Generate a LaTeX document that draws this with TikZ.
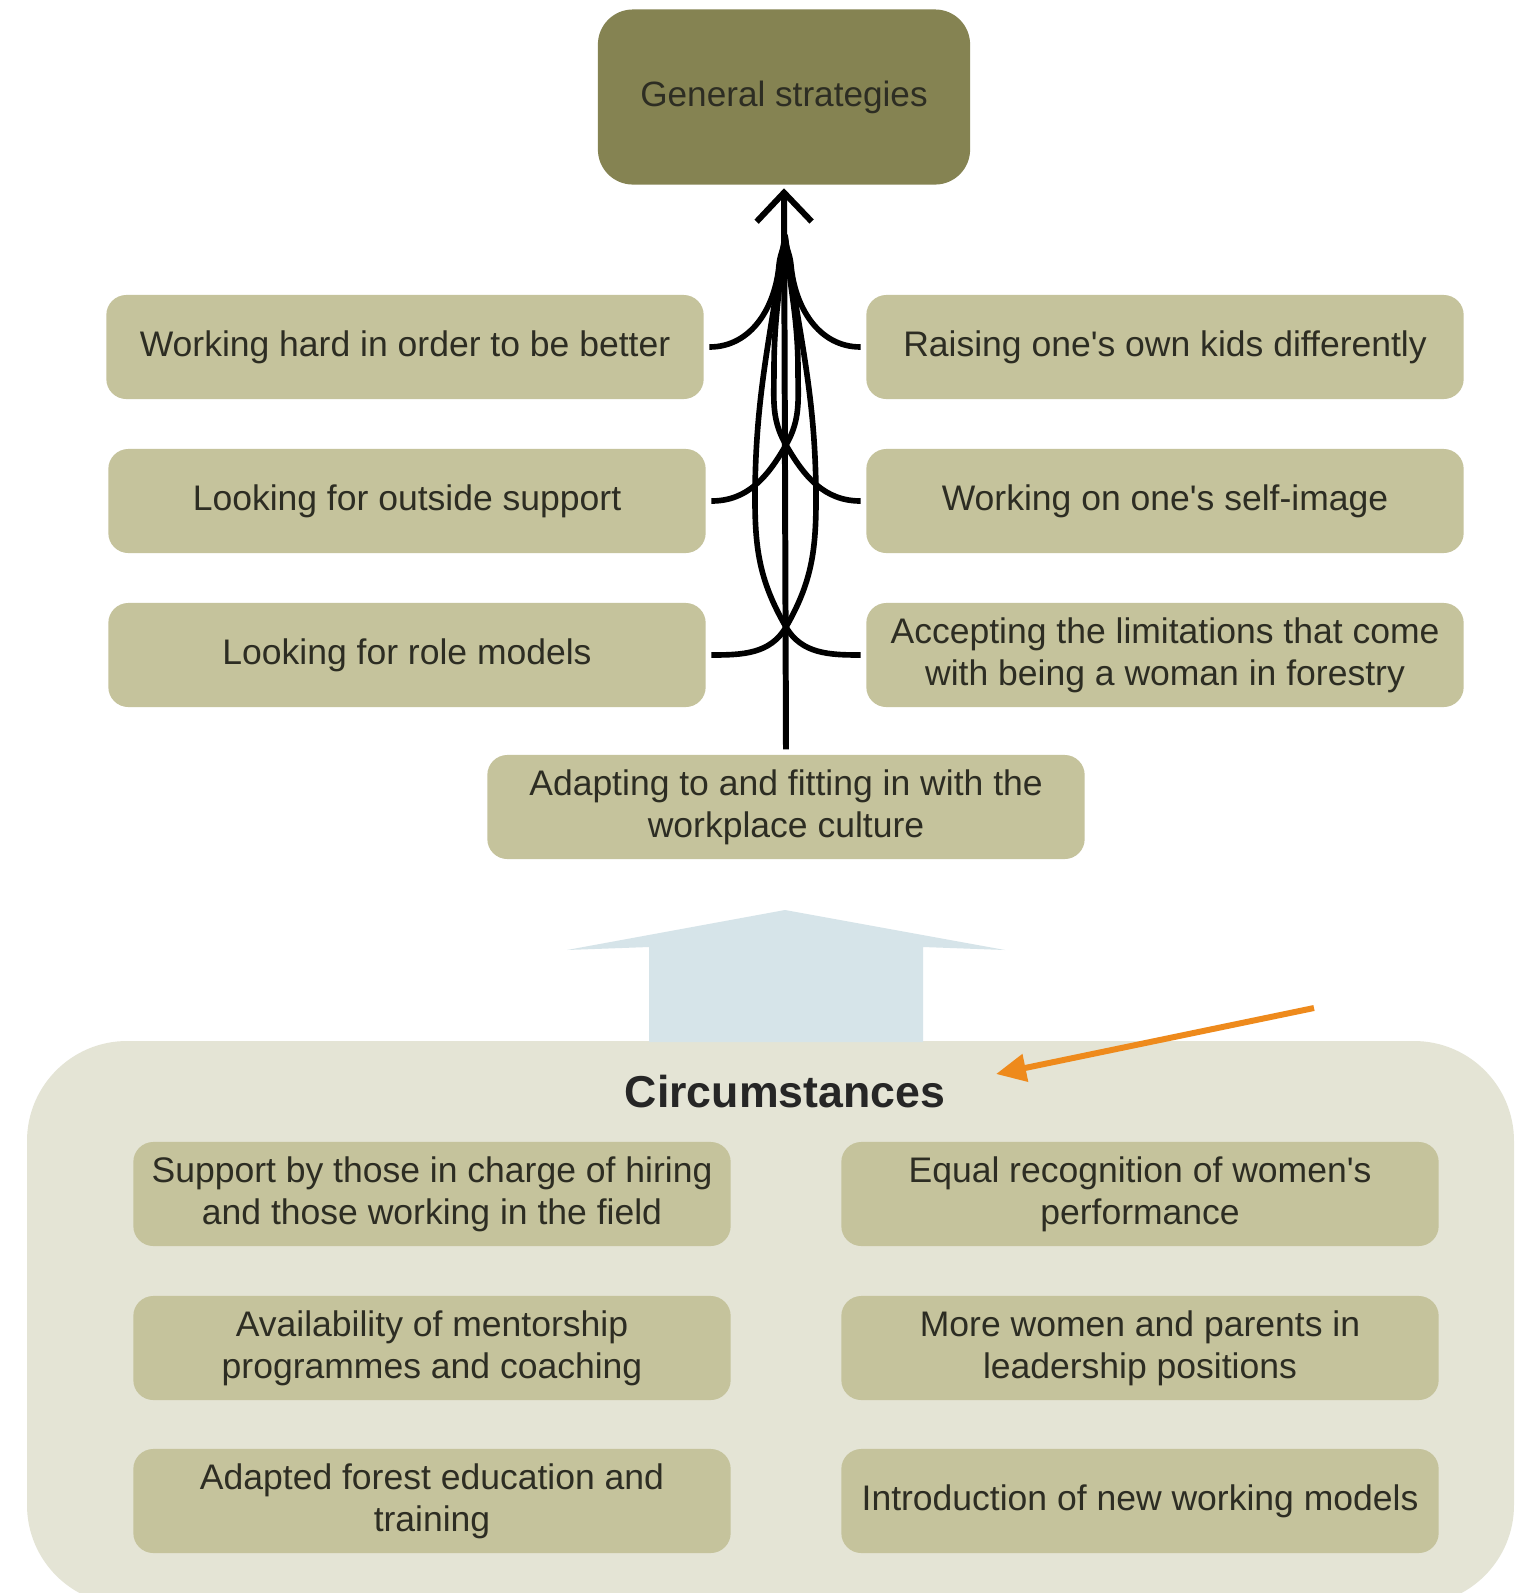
\documentclass[tikz,border=0pt]{standalone}
\usepackage{fontspec}
\setmainfont{Liberation Sans}
\usetikzlibrary{arrows.meta}
\definecolor{oliveD}{RGB}{133,131,82}
\definecolor{oliveL}{RGB}{197,195,156}
\definecolor{paleBg}{RGB}{228,228,213}
\definecolor{skyArr}{RGB}{214,228,233}
\definecolor{txtD}{RGB}{45,45,35}
\definecolor{orangeArr}{RGB}{238,138,28}
\tikzset{
	genbox/.style={
			fill=oliveD, rounded corners=0.35cm, minimum width=3.72cm, minimum height=1.75cm,
			text=txtD, font=\fontsize{10}{12}\selectfont
		},
	stratbox/.style={
			fill=oliveL, rounded corners=0.2cm, minimum width=5.97cm, minimum height=1.04cm,
			inner sep=1pt, align=center, text=txtD, font=\fontsize{10.1}{12}\selectfont
		},
	branch/.style={line width=1.6pt, black}
}
\newcommand{\apo}{\textquotesingle}

\begin{document}
\begin{tikzpicture}[x=0.01cm, y=-0.01cm]
			\clip (0,0) rectangle (1514,1593);
			\fill[white] (0,0) rectangle (1514,1593);
			% circumstances panel and big arrow
			\fill[paleBg, rounded corners=1cm] (27,1041) rectangle (1514,1605);
			\fill[skyArr] (567,950) -- (785,910) -- (1005,950) -- (923,947) -- (923,1042) -- (649,1042) -- (649,947) -- cycle;

			\node[genbox] (gen) at (784,97) {General strategies};
			\node[stratbox] (l1) at (405,347) {Working hard in order to be better};
			\node[stratbox] (l2) at (407,501) {Looking for outside support};
			\node[stratbox] (l3) at (407,655) {Looking for role models};
			\node[stratbox] (r1) at (1165,347) {Raising one\apo s own kids differently};
			\node[stratbox] (r2) at (1165,501) {Working on one\apo s self-image};
			\node[stratbox] (r3) at (1165,655) {Accepting the limitations that come\\with being a woman in forestry};
			\node[stratbox] (adapt) at (786,807) {Adapting to and fitting in with the\\workplace culture};

			\node[font=\bfseries\fontsize{12.7}{15}\selectfont, text=black!85] (circ) at (785,1092) {Circumstances};
			\node[stratbox] (c1) at (432,1194) {Support by those in charge of hiring\\and those working in the field};
			\node[stratbox] (c2) at (432,1348) {Availability of mentorship\\programmes and coaching};
			\node[stratbox] (c3) at (432,1501) {Adapted forest education and\\training};
			\node[stratbox] (d1) at (1140,1194) {Equal recognition of women\apo s\\performance};
			\node[stratbox] (d2) at (1140,1348) {More women and parents in\\leadership positions};
			\node[stratbox] (d3) at (1140,1501) {Introduction of new working models};

			% branches into the trunk
			\coordinate (conv) at (785,235);
			\draw[branch] ([xshift=0.05cm]l1.east) to[out=0,in=-95] (779,265) to[out=85,in=-90] (conv);
			\draw[branch] ([xshift=-0.05cm]r1.west) to[out=180,in=-85] (791,265) to[out=95,in=-90] (conv);
			\draw[branch] ([xshift=0.05cm]l2.east) to[out=0,in=-120] (786,445) to[out=60,in=-90] (798,370) to[out=90,in=-85] (conv);
			\draw[branch] ([xshift=-0.05cm]r2.west) to[out=180,in=-60] (786,445) to[out=120,in=-90] (774,370) to[out=90,in=-95] (conv);
			\draw[branch] ([xshift=0.05cm]l3.east) to[out=0,in=-120] (786,627) to[out=60,in=-90] (816,500) to[out=90,in=-82] (conv);
			\draw[branch] ([xshift=-0.05cm]r3.west) to[out=180,in=-60] (786,627) to[out=120,in=-90] (755,500) to[out=90,in=-98] (conv);
			\draw[branch, line width=1.7pt, -{Straight Barb[length=0.29cm,width=0.55cm]}] ([yshift=0.05cm]adapt.north) -- ([yshift=-0.03cm]gen.south);

			\coordinate (ostart) at (1314,1008);
			\coordinate (oend) at (996,1074);
			\draw[orangeArr, line width=1.7pt, -{Triangle[length=0.3cm,width=0.27cm]}] (ostart) -- (oend);
		\end{tikzpicture}
\end{document}
